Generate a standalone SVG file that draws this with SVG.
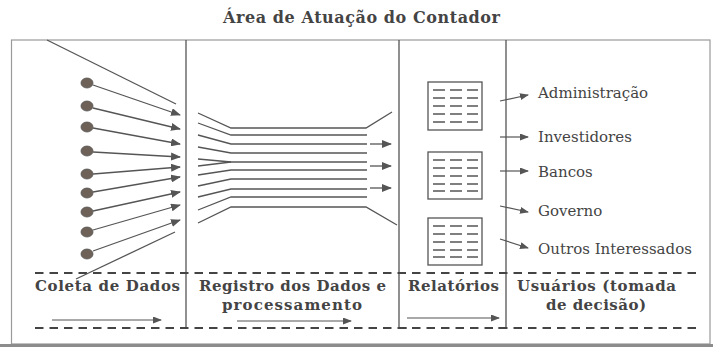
<svg xmlns="http://www.w3.org/2000/svg" width="713" height="347" viewBox="0 0 713 347">
<style>
.frame{fill:none;stroke:#9a9a9a;stroke-width:1.2}
.div{stroke:#555;stroke-width:1.3;fill:none}
.dash{stroke:#444;stroke-width:2;stroke-dasharray:8.5 6;fill:none}
.ln{stroke:#555;stroke-width:1.3;fill:none}
.arr{stroke:#555;stroke-width:1.3;fill:none;marker-end:url(#ah)}
.arrs{stroke:#555;stroke-width:1.2;fill:none;marker-end:url(#ahs)}
.dot{fill:#6e6258;stroke:#555;stroke-width:0.8}
.doc{fill:#fff;stroke:#555;stroke-width:1.3}
.docl{stroke:#555;stroke-width:1.7;stroke-dasharray:12 5}
.title{font-family:"DejaVu Serif",serif;font-weight:bold;font-size:16px;fill:#444}
.lbl{font-family:"DejaVu Serif",serif;font-weight:bold;font-size:15px;fill:#444}
.usr{font-family:"DejaVu Serif",serif;font-size:15px;fill:#444}
</style>
<defs>
<marker id="ah" markerUnits="userSpaceOnUse" markerWidth="10" markerHeight="8" refX="9" refY="4" orient="auto">
<path d="M0,0 L10,4 L0,8 Z" fill="#555"/>
</marker>
<marker id="ahs" markerUnits="userSpaceOnUse" markerWidth="9" markerHeight="7" refX="8" refY="3.5" orient="auto">
<path d="M0,0 L9,3.5 L0,7 Z" fill="#555"/>
</marker>
</defs>
<rect width="713" height="347" fill="#fff"/>
<text class="title" x="223" y="23" textLength="277">Área de Atuação do Contador</text>
<rect class="frame" x="11.5" y="40" width="698.5" height="304"/>
<rect x="0" y="344" width="713" height="3" fill="#8c8c8c"/>
<g id="columns">
<line class="div" x1="186" y1="40" x2="186" y2="329"/>
<polyline class="div" points="399,40 399,328 407,328"/>
<polyline class="div" points="506,40 506,328 498,328"/>
<line class="dash" x1="35" y1="273" x2="702" y2="273"/>
<line class="dash" x1="35" y1="328" x2="702" y2="328"/>
</g>
<g id="coleta">
<ellipse class="dot" cx="87" cy="83" rx="6" ry="5"/>
<ellipse class="dot" cx="87" cy="106" rx="6" ry="5"/>
<ellipse class="dot" cx="87" cy="127" rx="6" ry="5"/>
<ellipse class="dot" cx="87" cy="151" rx="6" ry="5"/>
<ellipse class="dot" cx="87" cy="174" rx="6" ry="5"/>
<ellipse class="dot" cx="87" cy="193" rx="6" ry="5"/>
<ellipse class="dot" cx="87" cy="212" rx="6" ry="5"/>
<ellipse class="dot" cx="87" cy="232" rx="6" ry="5"/>
<ellipse class="dot" cx="87" cy="254" rx="6" ry="5"/>
<text class="lbl" x="35" y="291" textLength="145">Coleta de Dados</text>
</g>
<g id="registro">
<text class="lbl" x="199" y="291" textLength="187">Registro dos Dados e</text>
<text class="lbl" x="222" y="310" textLength="140">processamento</text>
</g>
<g id="relatorios">
<rect class="doc" x="428" y="82" width="54" height="48"/>
<rect class="doc" x="428" y="152" width="54" height="47"/>
<rect class="doc" x="428" y="218" width="54" height="47"/>
<g class="docl">
<line x1="433" y1="90" x2="478" y2="90"/><line x1="433" y1="98" x2="478" y2="98"/><line x1="433" y1="106" x2="478" y2="106"/><line x1="433" y1="114" x2="478" y2="114"/><line x1="433" y1="122" x2="478" y2="122"/>
<line x1="433" y1="160" x2="478" y2="160"/><line x1="433" y1="168" x2="478" y2="168"/><line x1="433" y1="176" x2="478" y2="176"/><line x1="433" y1="184" x2="478" y2="184"/><line x1="433" y1="191" x2="478" y2="191"/>
<line x1="433" y1="226" x2="478" y2="226"/><line x1="433" y1="234" x2="478" y2="234"/><line x1="433" y1="242" x2="478" y2="242"/><line x1="433" y1="250" x2="478" y2="250"/><line x1="433" y1="257" x2="478" y2="257"/>
</g>
<text class="lbl" x="408" y="291" textLength="91">Relatórios</text>
</g>
<g id="usuarios">
<text class="usr" x="538" y="98">Administração</text>
<text class="usr" x="538" y="142">Investidores</text>
<text class="usr" x="538" y="177">Bancos</text>
<text class="usr" x="538" y="216">Governo</text>
<text class="usr" x="538" y="254">Outros Interessados</text>
<text class="lbl" x="517" y="291" textLength="159">Usuários (tomada</text>
<text class="lbl" x="546" y="310" textLength="100">de decisão)</text>
</g>
<g id="connectors">
<line class="ln" x1="47" y1="40" x2="176" y2="104"/>
<line class="ln" x1="76" y1="279" x2="175" y2="232"/>
<line class="arr" x1="93" y1="85" x2="180" y2="115"/>
<line class="arr" x1="93" y1="108" x2="180" y2="129"/>
<line class="arr" x1="93" y1="128" x2="180" y2="144"/>
<line class="arr" x1="93" y1="152" x2="180" y2="157"/>
<line class="arr" x1="93" y1="174" x2="180" y2="167"/>
<line class="arr" x1="93" y1="192" x2="180" y2="177"/>
<line class="arr" x1="93" y1="211" x2="180" y2="192"/>
<line class="arr" x1="93" y1="230" x2="180" y2="205"/>
<line class="arr" x1="93" y1="251" x2="180" y2="220"/>
<polyline class="ln" points="198,113 231,128 366,128 392,112"/>
<polyline class="ln" points="198,123 231,135 367,135"/>
<polyline class="ln" points="198,135 231,144 367,144"/>
<polyline class="ln" points="198,147 231,153 367,153"/>
<polyline class="ln" points="198,159 231,162 367,162"/>
<polyline class="ln" points="198,166 231,162"/>
<polyline class="ln" points="198,175 231,170 367,170"/>
<polyline class="ln" points="198,186 231,179 367,179"/>
<polyline class="ln" points="198,197 231,189 367,189"/>
<polyline class="ln" points="198,210 231,197 367,197"/>
<polyline class="ln" points="198,223 231,207 366,207 397,225"/>
<line class="arr" x1="370" y1="144" x2="391" y2="144"/>
<line class="arr" x1="370" y1="166" x2="391" y2="166"/>
<line class="arr" x1="370" y1="188" x2="391" y2="188"/>
<line class="arrs" x1="500" y1="101" x2="528" y2="95"/>
<line class="arrs" x1="500" y1="137" x2="528" y2="137"/>
<line class="arrs" x1="500" y1="171" x2="528" y2="171"/>
<line class="arrs" x1="500" y1="206" x2="528" y2="212"/>
<line class="arrs" x1="500" y1="239" x2="528" y2="248"/>
<line class="arrs" x1="52" y1="320" x2="161" y2="320"/>
<line class="arrs" x1="237" y1="321" x2="351" y2="321"/>
<line class="arrs" x1="407" y1="318" x2="499" y2="318"/>
</g>
</svg>
